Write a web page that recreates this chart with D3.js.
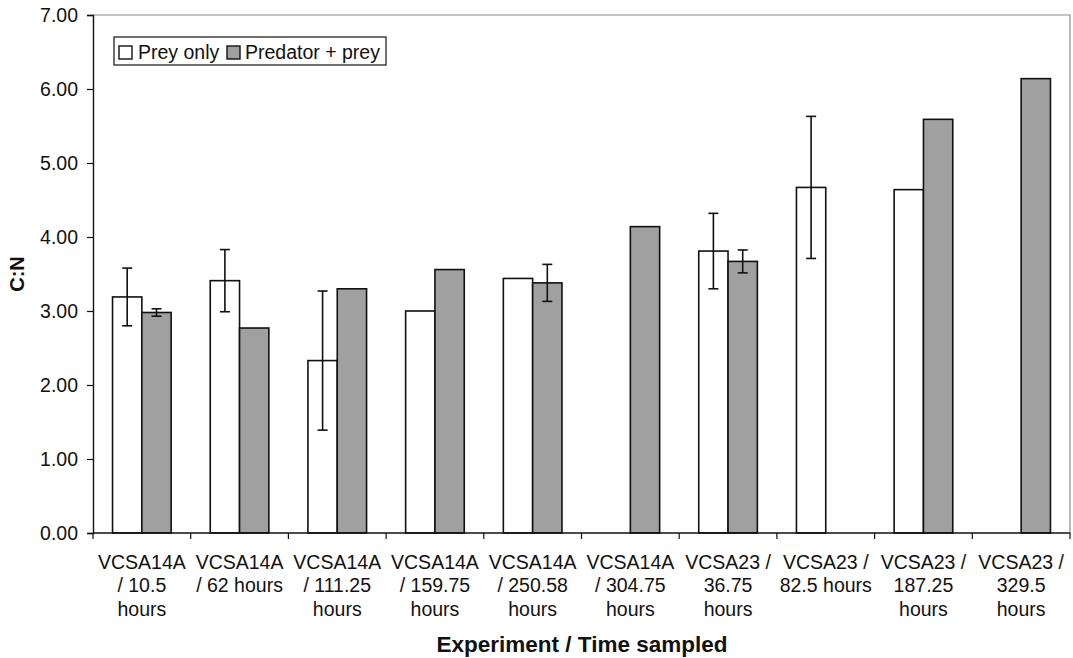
<!DOCTYPE html>
<html>
<head>
<meta charset="utf-8">
<script src="https://cdn.jsdelivr.net/npm/d3@7"></script>
<style>
  html, body { margin: 0; padding: 0; background: #fff; }
  svg { display: block; font-family: "Liberation Sans", Arial, sans-serif; }
</style>
</head>
<body>
<svg id="chart" width="1073" height="658"></svg>
<script>
// Categories (experiment / sampling time), one entry per wrapped label line
const categories = [
  ["VCSA14A", "/ 10.5", "hours"],
  ["VCSA14A", "/ 62 hours"],
  ["VCSA14A", "/ 111.25", "hours"],
  ["VCSA14A", "/ 159.75", "hours"],
  ["VCSA14A", "/ 250.58", "hours"],
  ["VCSA14A", "/ 304.75", "hours"],
  ["VCSA23 /", "36.75", "hours"],
  ["VCSA23 /", "82.5 hours"],
  ["VCSA23 /", "187.25", "hours"],
  ["VCSA23 /", "329.5", "hours"]
];

// C:N ratios; null where no sample
const preyOnly      = [3.19, 3.41, 2.33, 3.00, 3.44, null, 3.81, 4.67, 4.64, null];
const preyOnlyErr   = [0.39, 0.42, 0.94, null, null, null, 0.51, 0.96, null, null];
const predatorPrey    = [2.98, 2.77, 3.30, 3.56, 3.38, 4.14, 3.67, null, 5.59, 6.14];
const predatorPreyErr = [0.05, null, null, null, 0.25, null, 0.155, null, null, null];

const seriesNames = ["Prey only", "Predator + prey"];
const yTicks = [0, 1, 2, 3, 4, 5, 6, 7];

(function draw() {
  const svg = d3.select("#chart");
  const plotL = 93, plotR = 1070, plotT = 15, plotB = 533;
  const ink = "#111";

  const keys = categories.map((c, i) => "c" + i);
  const x = d3.scaleBand().domain(keys).range([plotL, plotR]).paddingInner(0).paddingOuter(0);
  const bw = x.bandwidth();
  const x1 = d3.scaleBand().domain(["prey", "pred"]).range([bw * 0.2, bw * 0.8]);
  const y = d3.scaleLinear().domain([0, 7]).range([plotB, plotT]);

  // Plot frame (top and right edges)
  svg.append("path")
    .attr("d", `M${plotL},${plotT}H${plotR}V${plotB}`)
    .attr("fill", "none").attr("stroke", "#8a8a8a").attr("stroke-width", 1.2);

  // Bars
  const rows = [];
  keys.forEach((k, i) => {
    if (preyOnly[i] != null) rows.push({ k, s: "prey", v: preyOnly[i], e: preyOnlyErr[i] });
    if (predatorPrey[i] != null) rows.push({ k, s: "pred", v: predatorPrey[i], e: predatorPreyErr[i] });
  });
  const fillFor = { prey: "#ffffff", pred: "#a0a0a0" };

  svg.append("g").selectAll("rect").data(rows).join("rect")
    .attr("x", d => x(d.k) + x1(d.s))
    .attr("y", d => y(d.v))
    .attr("width", x1.bandwidth())
    .attr("height", d => y(0) - y(d.v))
    .attr("fill", d => fillFor[d.s])
    .attr("stroke", ink).attr("stroke-width", 1.6);

  // Error bars
  const errs = rows.filter(d => d.e != null);
  const eg = svg.append("g").attr("stroke", ink).attr("stroke-width", 1.6);
  errs.forEach(d => {
    const cx = x(d.k) + x1(d.s) + x1.bandwidth() / 2;
    const y0 = y(d.v - d.e), y1 = y(d.v + d.e);
    eg.append("line").attr("x1", cx).attr("x2", cx).attr("y1", y0).attr("y2", y1);
    eg.append("line").attr("x1", cx - 5).attr("x2", cx + 5).attr("y1", y0).attr("y2", y0);
    eg.append("line").attr("x1", cx - 5).attr("x2", cx + 5).attr("y1", y1).attr("y2", y1);
  });

  // Y axis
  const yAxis = svg.append("g").attr("transform", `translate(${plotL},0)`)
    .call(d3.axisLeft(y).tickValues(yTicks).tickFormat(d3.format(".2f")).tickSizeOuter(0).tickSize(6).tickPadding(9));
  yAxis.select(".domain").attr("stroke", ink).attr("stroke-width", 1.4);
  yAxis.selectAll(".tick line").attr("stroke", ink).attr("stroke-width", 1.2);
  yAxis.selectAll(".tick text").attr("fill", ink).style("font-size", "19.5px");

  // X axis: ticks on category boundaries
  const xg = svg.append("g");
  xg.append("line").attr("x1", plotL).attr("x2", plotR).attr("y1", plotB).attr("y2", plotB)
    .attr("stroke", ink).attr("stroke-width", 1.4);
  const bounds = keys.map(k => x(k)).concat([plotR]);
  xg.selectAll("line.tk").data(bounds).join("line").attr("class", "tk")
    .attr("x1", d => d).attr("x2", d => d).attr("y1", plotB).attr("y2", plotB + 6)
    .attr("stroke", ink).attr("stroke-width", 1.2);

  const labels = xg.selectAll("text.cat").data(categories).join("text").attr("class", "cat")
    .attr("text-anchor", "middle").attr("fill", ink).style("font-size", "19.5px");
  labels.each(function (lines, i) {
    const cx = x(keys[i]) + bw / 2;
    d3.select(this).selectAll("tspan").data(lines).join("tspan")
      .attr("x", cx).attr("y", (d, j) => 568.5 + j * 23.5).text(d => d);
  });

  // Axis titles
  svg.append("text").attr("x", 582).attr("y", 652).attr("text-anchor", "middle")
    .attr("fill", ink).style("font-size", "22.5px").style("font-weight", "bold")
    .text("Experiment / Time sampled");
  svg.append("text").attr("transform", "translate(24,274) rotate(-90)").attr("text-anchor", "middle")
    .attr("fill", ink).style("font-size", "20px").style("font-weight", "bold").text("C:N");

  // Legend
  const lg = svg.append("g");
  lg.append("rect").attr("x", 114).attr("y", 37).attr("width", 272).attr("height", 28)
    .attr("fill", "#fff").attr("stroke", ink).attr("stroke-width", 1.2);
  const legendItems = [
    { name: seriesNames[0], fill: fillFor.prey, sx: 119, tx: 138 },
    { name: seriesNames[1], fill: fillFor.pred, sx: 227, tx: 245 }
  ];
  legendItems.forEach(it => {
    lg.append("rect").attr("x", it.sx).attr("y", 46).attr("width", 13).attr("height", 13)
      .attr("fill", it.fill).attr("stroke", ink).attr("stroke-width", 1.4);
    lg.append("text").attr("x", it.tx).attr("y", 59).attr("fill", ink)
      .style("font-size", "19.5px").text(it.name);
  });
})();
</script>
</body>
</html>
